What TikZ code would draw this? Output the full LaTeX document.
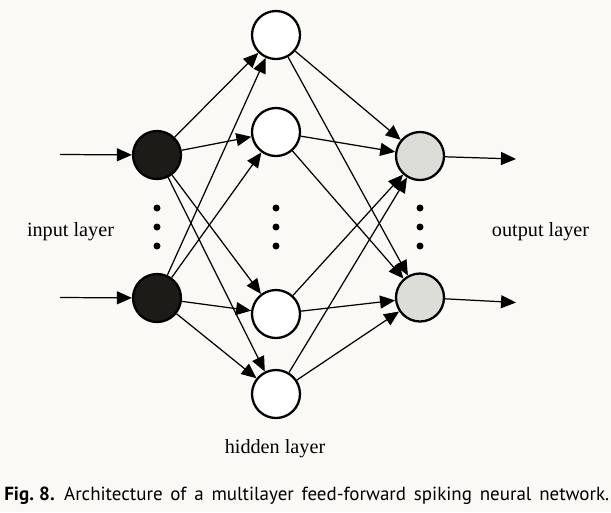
\documentclass[tikz,border=0pt]{standalone}
\usepackage{fontspec}
\setmainfont{Liberation Serif}
\newfontfamily\captionfont{PT Sans}
\usepackage{tikz}
\usetikzlibrary{arrows.meta,positioning}
\definecolor{paper}{RGB}{250,249,245}
\definecolor{spike}{RGB}{28,27,24}
\definecolor{readout}{RGB}{221,221,216}

\begin{document}
\begin{tikzpicture}[x=0.02cm, y=-0.02cm,
  every node/.style={font=\fontsize{11.5}{13}\selectfont},
  neuron/.style={draw, circle, line width=1.3pt, minimum size=0.96cm, inner sep=0pt},
  link/.style={-{Triangle[length=3mm,width=2.6mm]}, line width=0.7pt},
  dot/.style={fill, circle, inner sep=0pt, minimum size=1.4mm}]
  \fill[paper] (0,0) rectangle (611,512);
  % neurons of the three layers
  \foreach \i/\y in {1/155,2/298} {
    \node[neuron, fill=spike] (I\i) at (157,\y) {};
  }
  \foreach \j/\y in {1/35,2/132,3/314,4/394} {
    \node[neuron, fill=white] (H\j) at (276,\y) {};
  }
  \foreach \k/\y in {1/156,2/297.5} {
    \node[neuron, fill=readout] (O\k) at (420,\y) {};
  }
  % full connections
  \foreach \i in {1,2} {
    \foreach \j in {1,...,4} {
      \draw[link] (I\i) -- (H\j);
    }
  }
  \foreach \j in {1,...,4} {
    \foreach \k in {1,2} {
      \draw[link] (H\j) -- (O\k);
    }
  }
  % inputs and outputs
  \coordinate (in1) at (60,154.5);
  \coordinate (in2) at (60,297.5);
  \coordinate (out1) at (516,159);
  \coordinate (out2) at (516,302.5);
  \draw[link] (in1) -- (I1);
  \draw[link] (in2) -- (I2);
  \draw[link] (O1) -- (out1);
  \draw[link] (O2) -- (out2);
  % ellipsis dots
  \foreach \c/\x in {a/157,b/276,c/420} {
    \foreach \r/\y in {1/208,2/227,3/246} {
      \node[dot] (dot\c\r) at (\x,\y) {};
    }
  }
  % labels
  \node[anchor=base] (inlabel) at (70.5,236) {input layer};
  \node[anchor=base] (outlabel) at (540.5,236) {output layer};
  \node[anchor=base] (hidlabel) at (275,453) {hidden layer};
  \node[anchor=base west, inner sep=0pt] (caption) at (4,500.7)
    {\captionfont\fontsize{10.8}{12}\selectfont\makebox[12.1cm][s]{\textbf{Fig.\kern0.28em8.}\enspace Architecture of a multilayer feed-forward spiking neural network.}};
\end{tikzpicture}
\end{document}
